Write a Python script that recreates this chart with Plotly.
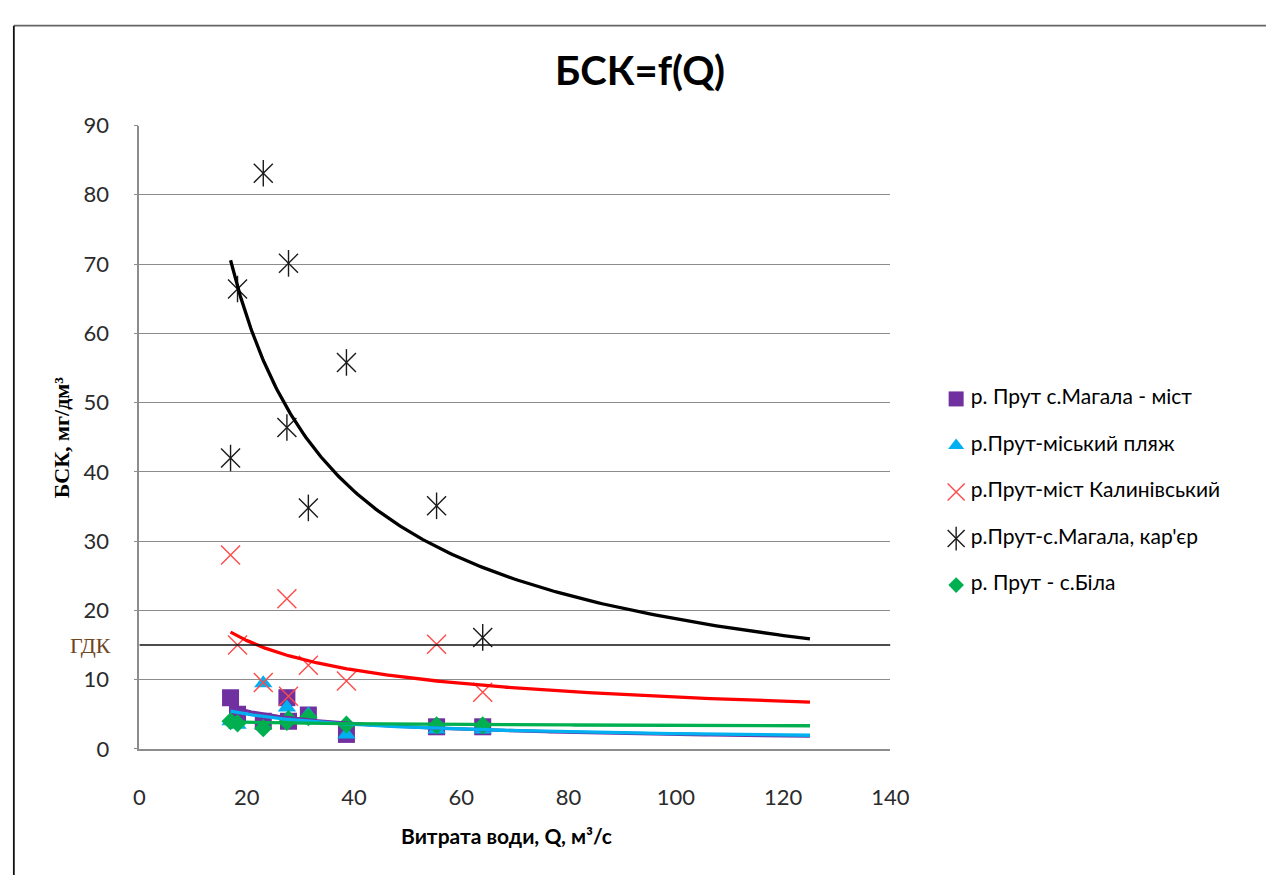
import numpy as np
import plotly.graph_objects as go

W, H = 1285, 888

# Water discharge Q, m3/s, and BOD measured at each river Prut station
discharge = [17.0, 18.3, 23.1, 27.5, 27.8, 31.5, 38.6, 55.4, 64.0]
bod_magala_bridge = [7.4, 5.0, 4.0, 7.4, 4.0, 4.9, 2.1, 3.2, 3.2]
bod_city_beach = [4.0, 3.5, 9.5, 6.0, 4.5, 5.0, 2.1, 2.8, 2.8]
bod_kalyniv_bridge = [28.0, 15.0, 9.6, 21.7, 7.6, 12.1, 9.8, 15.1, 8.2]
bod_magala_quarry = [42.0, 66.4, 83.1, 46.4, 70.1, 34.8, 55.8, 35.1, 16.1]
bod_bila = [4.0, 3.7, 3.0, 3.9, 4.3, 4.6, 3.5, 3.4, 3.4]

series_names = [
    "р. Прут с.Магала - міст",
    "р.Прут-міський пляж",
    "р.Прут-міст Калинівський",
    "р.Прут-с.Магала, кар'єр",
    "р. Прут - с.Біла",
]
series_values = [bod_magala_bridge, bod_city_beach, bod_kalyniv_bridge,
                 bod_magala_quarry, bod_bila]

gdk_limit = 15          # maximum permissible concentration
trend_forecast_to = 125  # power trendlines are extended forward to this Q

x_ticks = [0, 20, 40, 60, 80, 100, 120, 140]
y_ticks = [0, 10, 20, 30, 40, 50, 60, 70, 80, 90]

# visual styles
PURPLE, BLUE, RED, BLACK, GREEN = "#7030A0", "#00B0F0", "#FF0000", "#000000", "#00B050"
styles = [
    dict(markers=[dict(symbol="square", size=17, color=PURPLE)], trend=PURPLE),
    dict(markers=[dict(symbol="triangle-up", size=16, color=BLUE)], trend=BLUE),
    dict(markers=[dict(symbol="x-thin-open", size=19, color="#FF4A4A",
                       line=dict(color="#FF4A4A", width=1.4))], trend=RED),
    dict(markers=[dict(symbol="x-thin-open", size=19, color="#1a1a1a",
                       line=dict(color="#1a1a1a", width=1.4)),
                  dict(symbol="line-ns-open", size=19, color="#1a1a1a",
                       line=dict(color="#1a1a1a", width=1.4))], trend=BLACK),
    dict(markers=[dict(symbol="diamond", size=14, color=GREEN)], trend=GREEN),
]

SANS = "Lato, 'Open Sans', sans-serif"
SERIF = "'Liberation Serif', 'DejaVu Serif', serif"
GRID = "#8c8c8c"

# plot area in pixels
PL, PR, PT, PB = 136, 902, 115, 758


def px(x):
    return x / W


def py(y):
    return 1 - y / H


fig = go.Figure()

# data markers
for vals, st in zip(series_values, styles):
    for m in st["markers"]:
        fig.add_trace(go.Scatter(x=discharge, y=vals, mode="markers",
                                 marker=m, showlegend=False, hoverinfo="skip"))

# power trendlines (least squares in log-log space)
for vals, st in zip(series_values, styles):
    b, ln_a = np.polyfit(np.log(discharge), np.log(vals), 1)
    qq = np.geomspace(min(discharge), trend_forecast_to, 200)
    fig.add_trace(go.Scatter(x=qq, y=np.exp(ln_a) * qq ** b, mode="lines",
                             line=dict(color=st["trend"], width=3.3),
                             showlegend=False, hoverinfo="skip"))

# ГДК level
fig.add_trace(go.Scatter(x=[x_ticks[0], x_ticks[-1]], y=[gdk_limit, gdk_limit],
                         mode="lines", line=dict(color="#111111", width=1.6),
                         showlegend=False, hoverinfo="skip"))

# legend drawn on its own pixel-unit axes
LEG_X0, LEG_TOP, LEG_STEP = 930, 397, 48
for i, (name, st) in enumerate(zip(series_names, styles)):
    yy = LEG_TOP + i * LEG_STEP
    for m in st["markers"]:
        lm = dict(m)
        lm["size"] = m["size"] - 2
        fig.add_trace(go.Scatter(x=[969 - LEG_X0], y=[yy], mode="markers",
                                 marker=lm, xaxis="x2", yaxis="y2",
                                 showlegend=False, hoverinfo="skip"))
    fig.add_trace(go.Scatter(x=[984 - LEG_X0], y=[yy], mode="text", text=[name],
                             textposition="middle right",
                             textfont=dict(family=SANS, size=21, color="#000"),
                             xaxis="x2", yaxis="y2", showlegend=False,
                             hoverinfo="skip"))

fig.update_layout(
    width=W, height=H,
    margin=dict(l=0, r=0, t=0, b=0),
    paper_bgcolor="white", plot_bgcolor="white",
    showlegend=False,
    xaxis=dict(domain=[px(PL), px(PR)], range=[x_ticks[0], x_ticks[-1]],
               tickvals=x_ticks, showgrid=False, zeroline=False,
               showline=True, linecolor=GRID, linewidth=1.6,
               ticks="", ticklabelstandoff=28,
               tickfont=dict(family=SANS, size=22, color="#2b2b2b")),
    yaxis=dict(domain=[py(PB), py(PT)], range=[y_ticks[0], y_ticks[-1]],
               tickvals=y_ticks, showgrid=True, gridcolor=GRID, gridwidth=1.4,
               zeroline=False, showline=True, linecolor=GRID, linewidth=1.6,
               ticks="outside", ticklen=4, tickcolor=GRID, ticklabelstandoff=20,
               tickfont=dict(family=SANS, size=22, color="#2b2b2b")),
    xaxis2=dict(domain=[px(LEG_X0), 1.0], range=[0, W - LEG_X0], visible=False,
                anchor="y2"),
    yaxis2=dict(domain=[0, 1], range=[H, 0], visible=False, anchor="x2"),
    shapes=[
        dict(type="line", xref="paper", yref="paper", x0=px(8), x1=1.0,
             y0=py(12), y1=py(12), line=dict(color="#666666", width=1.6)),
        dict(type="line", xref="paper", yref="paper", x0=px(8), x1=px(8),
             y0=py(12), y1=0, line=dict(color="#111111", width=1.8)),
    ],
    annotations=[
        dict(text="<b>БСК=f(Q)</b>", xref="paper", yref="paper",
             x=px(647), y=py(58), xanchor="center", yanchor="middle",
             showarrow=False, font=dict(family=SANS, size=40, color="#000")),
        dict(text="<b>Витрата води, Q, м³/с</b>", xref="paper", yref="paper",
             x=px(510), y=py(847), xanchor="center", yanchor="middle",
             showarrow=False, font=dict(family=SANS, size=21, color="#000")),
        dict(text="<b>БСК, мг/дм³</b>", xref="paper", yref="paper",
             x=px(56), y=py((PT + PB) / 2), xanchor="center", yanchor="middle",
             textangle=-90, showarrow=False,
             font=dict(family=SERIF, size=22, color="#000")),
        dict(text="ГДК", xref="paper", yref="y", x=px(109), y=gdk_limit,
             xanchor="right", yanchor="middle", showarrow=False,
             font=dict(family=SERIF, size=22, color="#6e4522")),
    ],
)

fig.write_html("out.html")
